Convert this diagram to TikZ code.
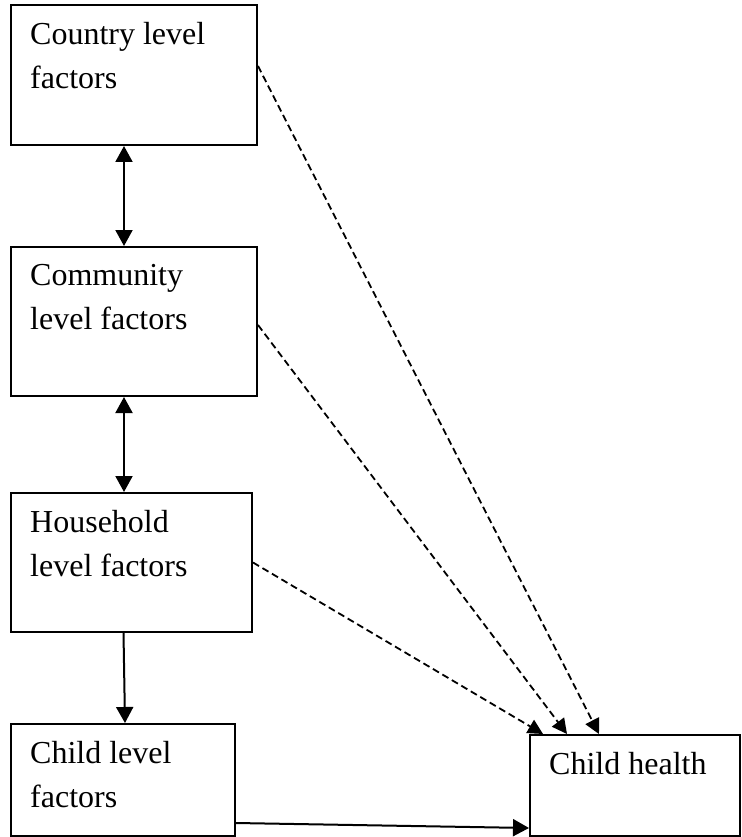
\documentclass[tikz,border=0pt]{standalone}
\usepackage{fontspec}
\setmainfont{Liberation Serif}
\usetikzlibrary{arrows.meta,positioning}

\begin{document}
\begin{tikzpicture}[x=1pt, y=1pt,
      box/.style={rectangle, draw, line width=2pt, inner sep=0pt},
      txt/.style={anchor=north west, align=left, inner sep=0pt, xshift=20pt, yshift=-18pt,
                  font=\fontsize{32}{44}\selectfont},
      arr/.style={-{Triangle[width=17pt,length=16pt]}, line width=2pt},
      biarr/.style={{Triangle[width=17pt,length=16pt]}-{Triangle[width=17pt,length=16pt]}, line width=2pt},
      dasharr/.style={-{Triangle[width=15pt,length=15pt]}, line width=1.8pt, dash pattern=on 7pt off 4pt}]
    \useasboundingbox (0,0) rectangle (741,-837);
    \node[box, minimum width=246pt, minimum height=140pt, anchor=north west,
          label={[txt]north west:Country level\\factors}] (country) at (10,-4) {};
    \node[box, minimum width=246pt, minimum height=149pt, below=100pt of country.south west, anchor=north west,
          label={[txt]north west:Community\\level factors}] (community) {};
    \node[box, minimum width=241pt, minimum height=139pt, below=95pt of community.south west, anchor=north west,
          label={[txt]north west:Household\\level factors}] (household) {};
    \node[box, minimum width=224pt, minimum height=112pt, below=90pt of household.south west, anchor=north west,
          label={[txt]north west:Child level\\factors}] (childlvl) {};
    \node[box, minimum width=210pt, minimum height=101pt, below right=11pt and 293pt of childlvl.north east, anchor=north west,
          label={[txt]north west:Child health}] (health) {};
    \draw[biarr] ([xshift=-10pt]country.south) -- ([xshift=-10pt]community.north);
    \draw[biarr] ([xshift=-10pt]community.south) -- ([xshift=-7.5pt]household.north);
    \draw[arr] ([xshift=-8pt]household.south) -- ([xshift=2pt]childlvl.north);
    \draw[arr] ([yshift=14pt]childlvl.south east) -- ([yshift=9pt]health.south west);
    \draw[dasharr] ([yshift=9pt]country.east) -- ([xshift=70pt]health.north west);
    \draw[dasharr] ([yshift=-3.5pt]community.east) -- ([xshift=38pt]health.north west);
    \draw[dasharr] ([yshift=0pt]household.east) -- ([xshift=14pt]health.north west);
  \end{tikzpicture}
\end{document}
